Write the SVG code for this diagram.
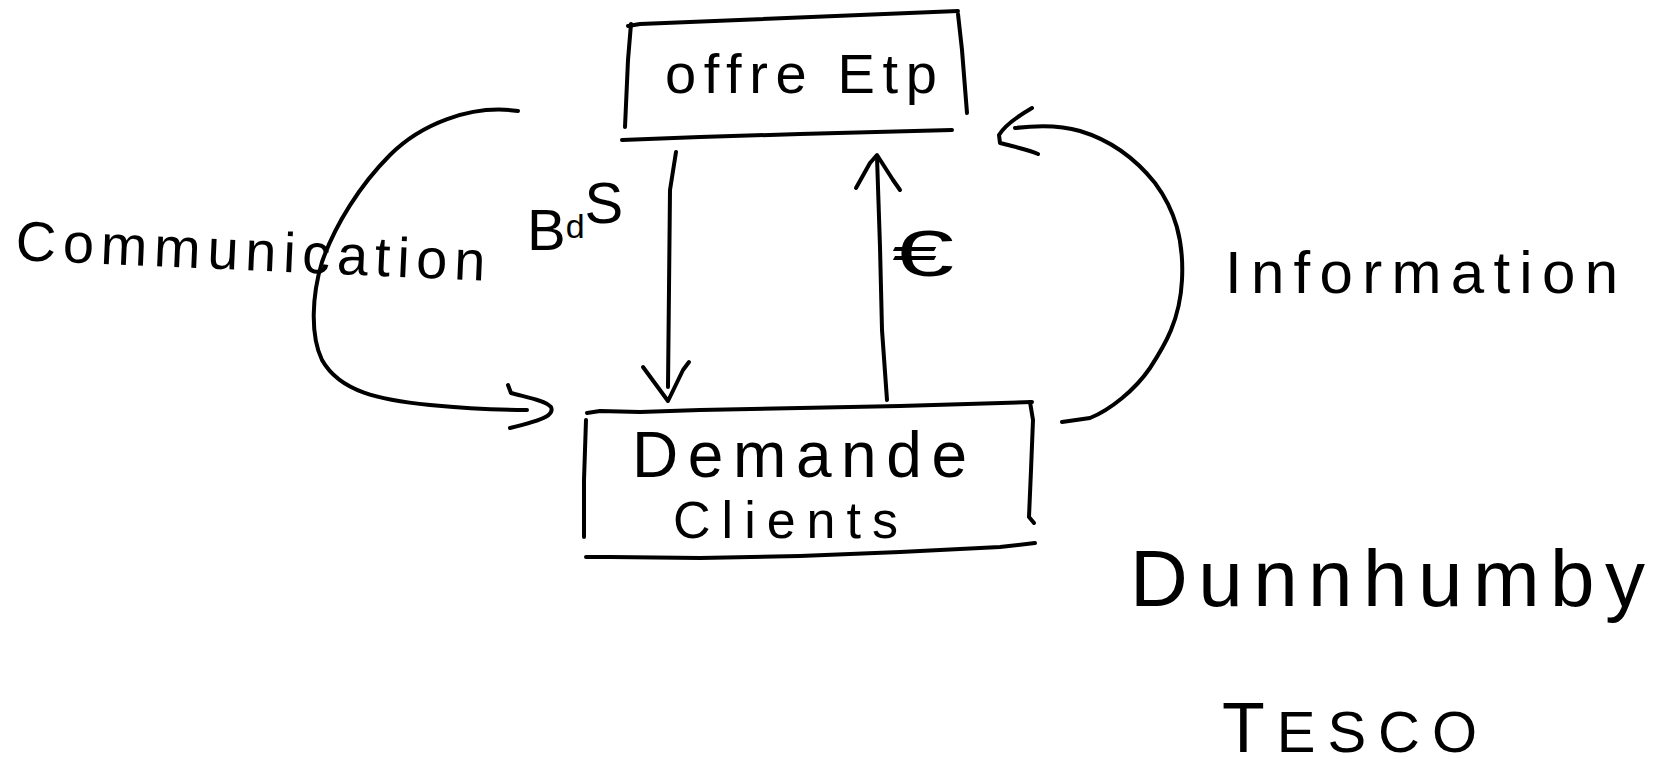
<svg xmlns="http://www.w3.org/2000/svg" width="1657" height="770" viewBox="0 0 1657 770">
<style>
.ink{fill:none;stroke:#000;stroke-width:4;stroke-linecap:round;stroke-linejoin:round}
.t{font-family:"Liberation Sans",Arial,sans-serif;fill:#000}
</style>
<rect width="1657" height="770" fill="#fff"/>
<g id="offre-etp">
<path class="ink" d="M628,26 L640,24 C700,22 800,18 958,11"/>
<path class="ink" d="M631,24 L628,60 L625,127"/>
<path class="ink" d="M958,14 L962,50 L967,113"/>
<path class="ink" d="M622,140 L700,137 L800,134 L952,130"/>
<text class="t" x="665" y="93" font-size="56" textLength="272" lengthAdjust="spacing">offre Etp</text>
</g>
<g id="demande-clients">
<path class="ink" d="M587,413 L600,411 L640,412 L700,410 L800,408 L900,406 L1032,402"/>
<path class="ink" d="M586,420 L584,480 L584,537"/>
<path class="ink" d="M1030,402 L1033,420 L1031,470 L1029,517 L1034,523"/>
<path class="ink" d="M586,557 L610,557 L700,558 L800,556 L900,552 L1000,547 L1035,543"/>
<text class="t" x="632" y="477" font-size="64" textLength="335" lengthAdjust="spacing">Demande</text>
<text class="t" x="673" y="538" font-size="52" textLength="225" lengthAdjust="spacing">Clients</text>
</g>
<g id="connectors">
<g id="communication">
<path class="ink" d="M518,111 C470,104 420,125 390,155 C360,185 335,225 322,262 C312,295 310,335 322,360 C340,392 380,400 430,405 C470,409 500,410 527,410"/>
<path class="ink" d="M508,385 L511,393 C525,397 545,400 551,407 C554,414 548,419 510,428"/>
<text class="t" x="15" y="260" font-size="56" textLength="470" lengthAdjust="spacing" transform="rotate(2.5 15 260)">Communication</text>
</g>
<g id="bds">
<path class="ink" d="M676,152 L670,190 L668,387"/>
<path class="ink" d="M643,367 L668,401 L683,370 L689,362"/>
<text class="t" x="527" y="250" font-size="58">B<tspan font-size="34" dy="-12">d</tspan><tspan font-size="58" dy="-15">S</tspan></text>
</g>
<g id="euro">
<path class="ink" d="M887,400 L882,330 L880,247 L877,157"/>
<path class="ink" d="M856,188 L870,163 L877,155 L893,180 L900,190"/>
<text class="t" x="892" y="276" font-size="64" textLength="62" lengthAdjust="spacingAndGlyphs">€</text>
</g>
<g id="information">
<path class="ink" d="M1062,422 L1090,418 C1110,410 1135,390 1150,368 C1165,345 1180,320 1182,280 C1184,240 1175,210 1155,183 C1135,158 1110,140 1080,131 C1060,125 1040,125 1015,128"/>
<path class="ink" d="M1032,108 C1020,115 1005,125 999,135 L1000,143 C1015,147 1030,150 1038,154"/>
<text class="t" x="1225" y="293" font-size="60" textLength="393" lengthAdjust="spacing">Information</text>
</g>
</g>
<g id="dunnhumby">
<text class="t" x="1130" y="606" font-size="80" textLength="515" lengthAdjust="spacing">Dunnhumby</text>
</g>
<g id="tesco">
<text class="t" x="1222" y="752" font-size="58" textLength="255" lengthAdjust="spacing"><tspan font-size="70">T</tspan>ESCO</text>
</g>
</svg>
